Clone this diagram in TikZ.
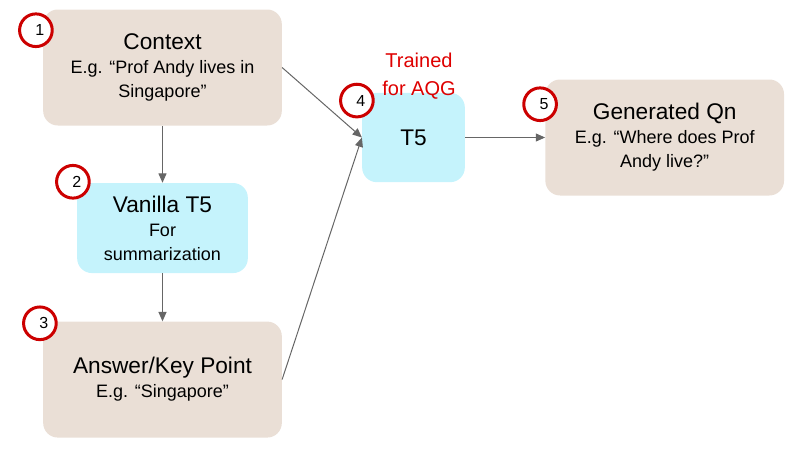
\documentclass[tikz,border=0pt]{standalone}
\usepackage{fontspec}
\setmainfont{Liberation Sans}
\usetikzlibrary{shapes}
\usetikzlibrary{arrows.meta}
\usetikzlibrary{calc,positioning}

\definecolor{boxbeige}{RGB}{234,223,214}
\definecolor{boxcyan}{RGB}{197,243,252}
\definecolor{markred}{RGB}{204,0,0}
\definecolor{aqgred}{RGB}{222,0,0}
\definecolor{linegray}{RGB}{102,102,102}
\newcommand{\boxtitle}[1]{{\fontsize{17}{18}\selectfont #1}}

\begin{document}
\begin{tikzpicture}[x=0.75pt, y=-0.75pt]
	\tikzstyle{stage}=[fill=boxbeige, rounded corners=11pt, rectangle,
	text centered, align=center, inner sep=0pt,
	minimum width=179pt, minimum height=87pt,
	font=\fontsize{13.5}{18}\selectfont]
	\tikzstyle{model}=[stage, fill=boxcyan]
	\tikzstyle{num}=[circle, draw=markred, line width=2.25pt, fill=white,
	minimum size=24.5pt, inner sep=0pt, font=\fontsize{12}{12}\selectfont]
	\tikzstyle{flow}=[-{Triangle[length=7pt,width=6pt]}, draw=linegray, line width=0.75pt]
	\useasboundingbox (0,0) rectangle (800,468);

	\node[stage] (context) at (162.5,67.5) {\boxtitle{Context}\\E.g. “Prof Andy lives in\\Singapore”};
	\node[model, minimum width=128pt, minimum height=67.5pt] [below=42.75pt of context] (vanilla) {\boxtitle{Vanilla T5}\\For\\summarization};
	\node[stage] [below=36pt of vanilla] (answer) {\boxtitle{Answer/Key Point}\\E.g. “Singapore”};
	\node[model, minimum width=77pt, minimum height=67pt] (t5) at (413.5,137.5) {\boxtitle{T5}};
	\node[stage] [right=60pt of t5] (generated) {\boxtitle{Generated Qn}\\E.g. “Where does Prof\\Andy live?”};

	% step markers
	\node[num] (n1) at ($(context.north west)+(-7,21)$) {\hspace*{6pt}1};
	\node[num] (n2) at ($(vanilla.north west)+(-4,-1)$) {\hspace*{6pt}2};
	\node[num] (n3) at ($(answer.north west)+(-3,2)$) {\hspace*{6pt}3};
	\node[num] (n4) at ($(t5.north west)+(-5,8)$) {\hspace*{6pt}4};
	\node[num] (n5) at ($(generated.north west)+(-5,25)$) {\hspace*{6pt}5};

	\node[text=aqgred, align=center, font=\fontsize{15}{21}\selectfont] (trained) at ($(t5.north)+(5.5,-16)$) {Trained\\for AQG};

	\draw[flow] (context.south) -- (vanilla.north);
	\draw[flow] (vanilla.south) -- (answer.north);
	\draw[flow] (context.east) -- (t5.west);
	\draw[flow] (answer.east) -- (t5.west);
	\draw[flow] (t5.east) -- (generated.west);

\end{tikzpicture}
\end{document}
